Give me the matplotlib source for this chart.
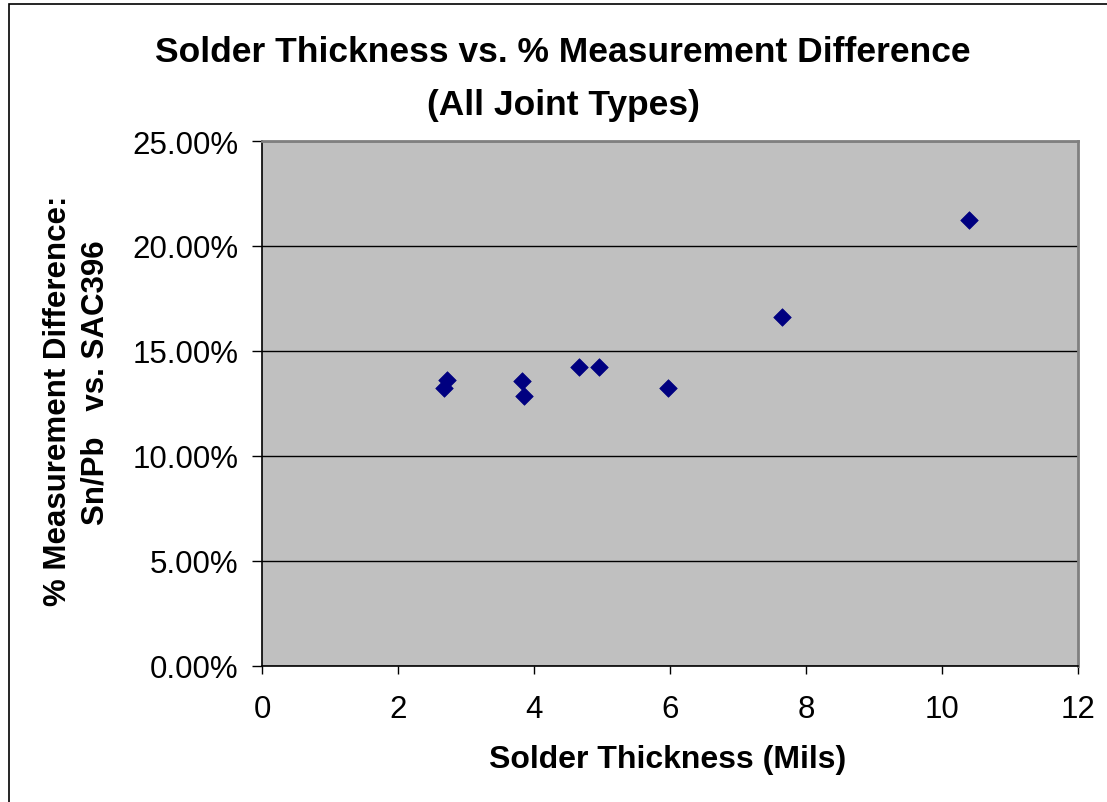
import matplotlib
matplotlib.use("Agg")
import matplotlib.pyplot as plt
from matplotlib.ticker import FuncFormatter
from matplotlib.patches import Rectangle

plt.rcParams['font.family'] = ['Liberation Sans', 'DejaVu Sans']

# Solder thickness (mils) and % measurement difference (Sn/Pb vs SAC396)
thickness = [2.72, 2.68, 3.83, 3.86, 4.66, 4.95, 5.97, 7.64, 10.40]
pct_diff = [13.62, 13.26, 13.57, 12.86, 14.26, 14.26, 13.26, 16.62, 21.24]

x_ticks = [0, 2, 4, 6, 8, 10, 12]
y_ticks = [0, 5, 10, 15, 20, 25]

fig = plt.figure(figsize=(11.07, 8.03), dpi=100)
fig.patch.set_facecolor('white')

# outer chart frame
fig.patches.append(Rectangle((9 / 1107, -0.01), 1.02, 1 - 5 / 803 + 0.01,
                             transform=fig.transFigure, fill=False,
                             edgecolor='black', linewidth=1.2))

ax = fig.add_axes([262 / 1107, 1 - 667 / 803, (1078 - 262) / 1107, (667 - 142) / 803])
ax.set_facecolor('#C0C0C0')

ax.set_xlim(0, 12)
ax.set_ylim(0, 25)
ax.set_xticks(x_ticks)
ax.set_yticks(y_ticks)
ax.yaxis.set_major_formatter(FuncFormatter(lambda v, p: f"{v:.2f}%"))

ax.grid(axis='y', color='black', linewidth=1.0)
ax.set_axisbelow(True)

ax.scatter(thickness, pct_diff, marker='D', s=80, color='#000080',
           edgecolors='#000080', linewidths=0.5, zorder=3)

for side in ('top', 'right'):
    ax.spines[side].set_color('#808080')
    ax.spines[side].set_linewidth(2)
for side in ('left', 'bottom'):
    ax.spines[side].set_color('black')
    ax.spines[side].set_linewidth(1.2)

ax.tick_params(axis='both', direction='out', width=1.0,
               labelsize=22.5, color='black')
ax.tick_params(axis='x', length=6, pad=14)
ax.tick_params(axis='y', length=7, pad=10)

fig.text(563 / 1107, 1 - 52 / 803, "Solder Thickness vs. % Measurement Difference",
         ha='center', va='center', fontsize=25.5, fontweight='bold')
fig.text(563 / 1107, 1 - 105 / 803, "(All Joint Types)",
         ha='center', va='center', fontsize=25.5, fontweight='bold')

fig.text(668 / 1107, 1 - 760 / 803, "Solder Thickness (Mils)",
         ha='center', va='center', fontsize=23, fontweight='bold')

fig.text(58 / 1107, 1 - 401 / 803, "% Measurement Difference:",
         ha='center', va='center', rotation=90, fontsize=22.5, fontweight='bold')
fig.text(96 / 1107, 1 - 383 / 803, "Sn/Pb   vs. SAC396",
         ha='center', va='center', rotation=90, fontsize=22.5, fontweight='bold')

fig.savefig("out.png", dpi=100, facecolor='white')
